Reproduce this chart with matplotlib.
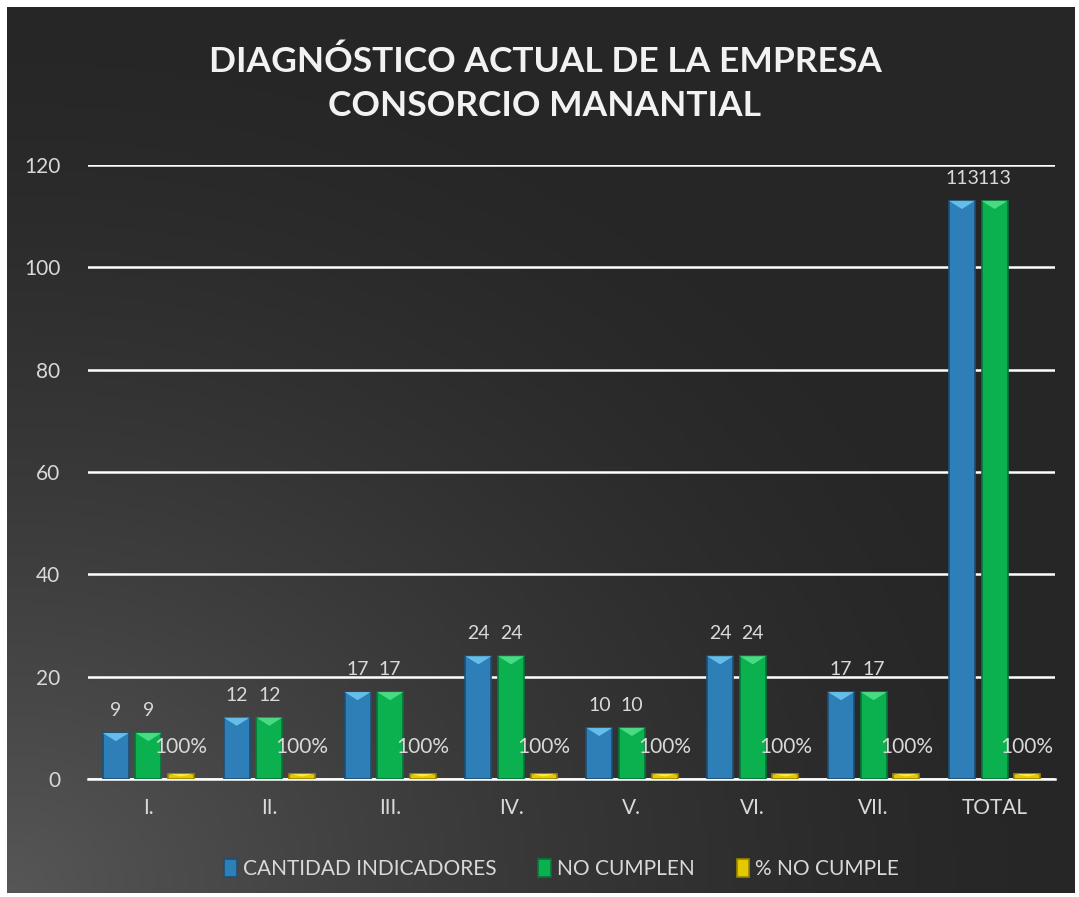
import matplotlib
matplotlib.use("Agg")
import matplotlib.pyplot as plt
import numpy as np
from matplotlib.patches import Polygon

categories = ["I.", "II.", "III.", "IV.", "V.", "VI.", "VII.", "TOTAL"]
cantidad = [9, 12, 17, 24, 10, 24, 17, 113]
no_cumplen = [9, 12, 17, 24, 10, 24, 17, 113]
pct_no_cumple = [1, 1, 1, 1, 1, 1, 1, 1]
pct_labels = ["100%"] * 8
series_names = ["CANTIDAD INDICADORES", "NO CUMPLEN", "% NO CUMPLE"]
title = "DIAGNÓSTICO ACTUAL DE LA EMPRESA\nCONSORCIO MANANTIAL"

plt.rcParams['font.family'] = ['Lato', 'DejaVu Sans']
W, H = 1079, 897
fig = plt.figure(figsize=(W / 100, H / 100), dpi=100)
fig.patch.set_facecolor("white")

# background gradient panel
bg = fig.add_axes([7 / W, 4 / H, (1075 - 7) / W, (893 - 7) / H])
bg.set_axis_off()
yy, xx = np.mgrid[0:1:200j, 0:1:200j]
d = np.clip(1 - np.sqrt((xx) ** 2 + (1 - yy) ** 2) / 1.0, 0, 1)
val = 0.15 + 0.19 * d ** 1.5
img = np.dstack([val, val, val])
bg.imshow(img, aspect="auto", extent=[0, 1, 0, 1], origin="upper")

ax = fig.add_axes([88 / W, (H - 779) / H, (1055 - 88) / W, (779 - 165) / H])
ax.set_facecolor("none")
ax.set_xlim(-0.5, len(categories) - 0.5)
ax.set_ylim(0, 120)
ax.set_yticks(range(0, 121, 20))
ax.grid(axis="y", color="white", linewidth=1.8)
ax.set_axisbelow(True)
for s in ["top", "right", "left"]:
    ax.spines[s].set_visible(False)
ax.spines["bottom"].set_color("white")
ax.spines["bottom"].set_linewidth(1.8)
ax.tick_params(axis="both", length=0, colors="#d9d9d9", labelsize=15)
ax.tick_params(axis="y", pad=20)
ax.tick_params(axis="x", pad=14)
x = np.arange(len(categories))
ax.set_xticks(x)
ax.set_xticklabels(categories)

w = 0.215
off = 0.27
colors = ["#2e7fb8", "#0bb14f", "#e6c800"]
tops = ["#6cc6f0", "#4fe08a", "#fff24a"]
edges = ["#1c4f73", "#06763a", "#9a8500"]
series = [cantidad, no_cumplen, pct_no_cumple]
bar_groups = []
for i, (vals, c, e) in enumerate(zip(series, colors, edges)):
    bars = ax.bar(x + (i - 1) * off, vals, width=w, color=c, edgecolor=e,
                  linewidth=1.2, label=series_names[i], zorder=3)
    bar_groups.append(bars)
    for b in bars:
        bx, bw, bh = b.get_x(), b.get_width(), b.get_height()
        th = min(1.6, bh * 0.5)
        tri = Polygon([[bx, bh], [bx + bw, bh], [bx + bw * 0.5, bh - th]],
                      closed=True, facecolor=tops[i], edgecolor="none", zorder=4, alpha=0.9)
        ax.add_patch(tri)

for bars in bar_groups[:2]:
    ax.bar_label(bars, padding=10, color="#d9d9d9", fontsize=14)
ax.bar_label(bar_groups[2], labels=pct_labels, padding=12, color="#d9d9d9", fontsize=15)

fig.text(545 / W, 1 - 84 / H, title, ha="center", va="center", color="#f2f2f2",
         fontsize=25.5, fontweight="bold", linespacing=1.45)

leg = ax.legend(loc="upper center", bbox_to_anchor=(0.49, -0.10), ncol=3, frameon=False,
                fontsize=15, labelcolor="#d9d9d9", handlelength=0.6, handleheight=0.9,
                handletextpad=0.3, columnspacing=2.0)

fig.savefig("out.png", dpi=100, facecolor=fig.get_facecolor())
